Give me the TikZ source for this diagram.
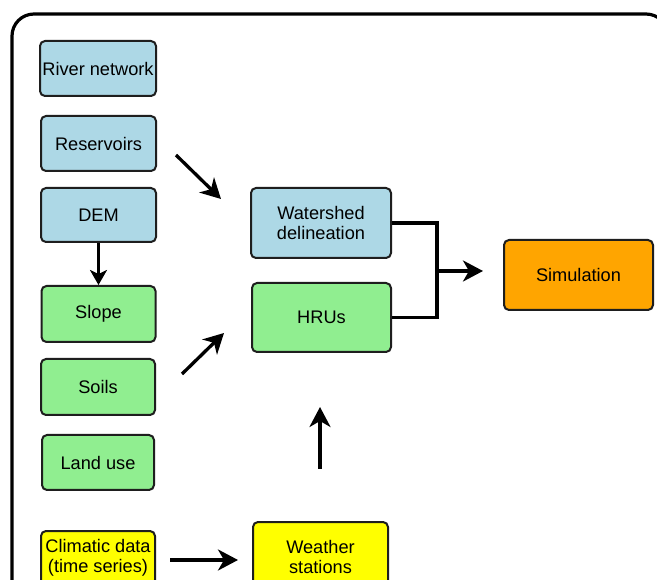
\documentclass[tikz,border=0pt]{standalone}
\usepackage{fontspec}
\setmainfont{Liberation Sans}
\usetikzlibrary{arrows.meta}
\definecolor{boxblue}{RGB}{173,216,230}
\definecolor{boxgreen}{RGB}{144,238,144}
\definecolor{boxyellow}{RGB}{255,255,0}
\definecolor{boxorange}{RGB}{255,165,0}
\definecolor{edge}{RGB}{30,30,30}
\tikzset{
  box/.style={draw=edge, line width=2pt, rounded corners=5pt, inner sep=0pt,
    align=center, font=\fontsize{18.2}{19.8}\selectfont, text=black},
  arrowline/.style={line width=3.3pt, -{Stealth[length=20pt,width=21pt,inset=6pt]}},
  smallarrow/.style={line width=2.6pt, -{Stealth[length=15pt,width=17pt,inset=4pt]}},
  bracket/.style={line width=3.2pt},
}
\begin{document}
\begin{tikzpicture}[x=1pt,y=-1pt]
\path[use as bounding box] (0,0) rectangle (657,580);
\clip (0,0) rectangle (657,580);
\fill[white] (0,0) rectangle (657,580);
\draw[line width=3.2pt, rounded corners=22pt] (12,14) rectangle (668,640);

\node[box, fill=boxblue, minimum width=116pt, minimum height=55pt] (river) at (98,68.5) {River network};
\node[box, fill=boxblue, minimum width=115pt, minimum height=55pt] (res) at (98.5,143.5) {Reservoirs};
\node[box, fill=boxblue, minimum width=115pt, minimum height=54pt] (dem) at (98.5,215) {DEM};
\node[box, fill=boxgreen, minimum width=114pt, minimum height=56pt] (slope) at (98.5,314) {Slope};
\node[box, fill=boxgreen, minimum width=114pt, minimum height=56pt] (soils) at (98,387) {Soils};
\node[box, fill=boxgreen, minimum width=112pt, minimum height=55pt] (land) at (98,462.5) {Land use};
\node[box, fill=boxyellow, minimum width=114pt, minimum height=54pt] (clim) at (98,558) {Climatic data\\(time series)};
\node[box, fill=boxblue, minimum width=140pt, minimum height=70pt] (ws) at (321,223) {Watershed\\delineation};
\node[box, fill=boxgreen, minimum width=139pt, minimum height=69pt] (hru) at (321.5,317.5) {HRUs};
\node[box, fill=boxorange, minimum width=149pt, minimum height=70pt] (sim) at (578.5,275) {Simulation};
\node[box, fill=boxyellow, minimum width=135pt, minimum height=70pt] (weather) at (320.5,557) {Weather\\stations};

\coordinate (resA) at (176,155);
\coordinate (resB) at (221,199);
\coordinate (soilA) at (182,374);
\coordinate (soilB) at (224,333);
\coordinate (upA) at (320,469);
\coordinate (upB) at (320,407);
\coordinate (climA) at (170,560);
\coordinate (climB) at (238,560);
\coordinate (j) at (437,271);
\coordinate (simB) at (483,271);

\draw[smallarrow] (dem) -- (slope);
\draw[arrowline] (resA) -- (resB);
\draw[arrowline] (soilA) -- (soilB);
\draw[arrowline] (upA) -- (upB);
\draw[arrowline] (climA) -- (climB);
\draw[bracket] (ws.east) -| (j);
\draw[bracket] (hru.east) -| (j);
\draw[arrowline] (j) -- (simB);
\end{tikzpicture}
\end{document}
